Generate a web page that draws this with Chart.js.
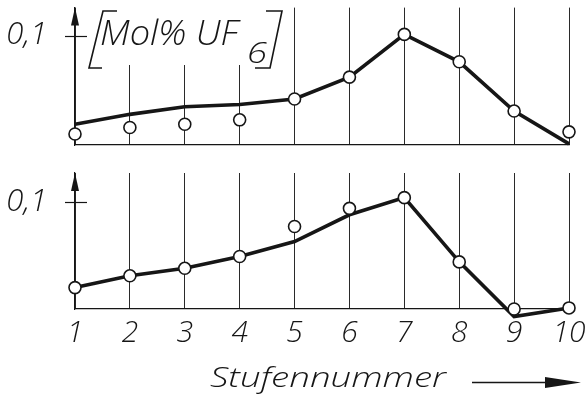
<!DOCTYPE html>
<html>
<head>
<meta charset="utf-8">
<script src="https://cdn.jsdelivr.net/npm/chart.js@4.4.1/dist/chart.umd.min.js"></script>
<style>
  html, body { margin: 0; padding: 0; background: #fff; }
  #wrap { position: relative; width: 586px; height: 397px; overflow: hidden; }
  canvas { position: absolute; left: 0; }
  #top-canvas { top: 0; }
  #bottom-canvas { top: 160px; }
</style>
</head>
<body>
<div id="wrap">
  <canvas id="top-canvas" width="586" height="160"></canvas>
  <canvas id="bottom-canvas" width="586" height="237"></canvas>
</div>
<script>
// stage numbers along x
const stages = ['1', '2', '3', '4', '5', '6', '7', '8', '9', '10'];

// upper diagram: calculated curve and measured points (Mol% UF6)
const upperCurve = [0.019, 0.028, 0.035, 0.037, 0.042, 0.062, 0.101, 0.076, 0.031, 0.001];
const upperMeasured = [0.010, 0.016, 0.019, 0.023, 0.042, 0.062, 0.101, 0.076, 0.031, 0.012];

// lower diagram
const lowerCurve = [0.020, 0.031, 0.038, 0.049, 0.063, 0.088, 0.104, 0.044, -0.007, 0.001];
const lowerMeasured = [0.020, 0.031, 0.038, 0.049, 0.077, 0.094, 0.104, 0.044, 0.000, 0.001];

// only one labelled tick on each y axis
const yTickValues = [0.1];
const yTickLabels = ['0,1'];

const INK = '#161616';
const FONT = "'Open Sans', 'DejaVu Sans', sans-serif";

function italic(size) {
  return { family: FONT, size: size, style: 'italic', weight: '300' };
}

// draw text stretched horizontally to a given width
function wideText(ctx, text, x, y, width) {
  const w = ctx.measureText(text).width;
  ctx.save();
  ctx.translate(x, y);
  ctx.scale(width / w, 1);
  ctx.fillText(text, 0, 0);
  ctx.restore();
}

// arrow at the top of the y axis and the little cross mark at 0,1
const axisDecor = {
  id: 'axisDecor',
  afterDraw(chart) {
    const ctx = chart.ctx;
    const area = chart.chartArea;
    const y = chart.scales.y;
    const x0 = area.left;
    ctx.save();
    ctx.fillStyle = INK;
    ctx.strokeStyle = INK;
    ctx.beginPath();
    ctx.moveTo(x0, area.top);
    ctx.lineTo(x0 - 4, area.top + 18);
    ctx.lineTo(x0 + 4, area.top + 18);
    ctx.closePath();
    ctx.fill();
    ctx.lineWidth = 1.2;
    yTickValues.forEach(v => {
      const py = Math.round(y.getPixelForValue(v)) + 0.5;
      ctx.beginPath();
      ctx.moveTo(x0 - 10, py);
      ctx.lineTo(x0 + 12, py);
      ctx.stroke();
    });
    ctx.restore();
  }
};

// unit label in brackets on the upper diagram
const unitLabel = {
  id: 'unitLabel',
  afterDraw(chart) {
    const ctx = chart.ctx;
    ctx.save();
    ctx.fillStyle = '#fff';
    ctx.fillRect(84, 0, 200, 65);
    ctx.fillStyle = INK;
    ctx.strokeStyle = INK;
    ctx.lineWidth = 1.6;
    ctx.textBaseline = 'alphabetic';
    ctx.textAlign = 'left';
    ctx.font = 'italic 300 34px ' + FONT;
    wideText(ctx, 'Mol% UF', 100, 45, 138);
    ctx.font = 'italic 300 29px ' + FONT;
    wideText(ctx, '6', 247, 63, 20);
    // left bracket
    ctx.beginPath();
    ctx.moveTo(117, 11);
    ctx.lineTo(103, 11);
    ctx.lineTo(89, 68);
    ctx.lineTo(102, 68);
    ctx.stroke();
    // right bracket
    ctx.beginPath();
    ctx.moveTo(266, 11);
    ctx.lineTo(282, 11);
    ctx.lineTo(270, 68);
    ctx.lineTo(255, 68);
    ctx.stroke();
    ctx.restore();
  }
};

// axis title with arrow under the lower diagram
const axisTitle = {
  id: 'axisTitle',
  afterDraw(chart) {
    const ctx = chart.ctx;
    const top = 160; // canvas offset on the page
    ctx.save();
    ctx.fillStyle = INK;
    ctx.strokeStyle = INK;
    ctx.font = 'italic 300 28px ' + FONT;
    ctx.textAlign = 'left';
    ctx.textBaseline = 'alphabetic';
    wideText(ctx, 'Stufennummer', 210, 387 - top, 236);
    ctx.lineWidth = 1.3;
    ctx.beginPath();
    ctx.moveTo(472, 382.5 - top);
    ctx.lineTo(548, 382.5 - top);
    ctx.stroke();
    ctx.beginPath();
    ctx.moveTo(545, 377 - top);
    ctx.lineTo(581, 382.5 - top);
    ctx.lineTo(545, 388 - top);
    ctx.closePath();
    ctx.fill();
    ctx.restore();
  }
};

function buildChart(canvasId, curve, measured, opts) {
  const ctx = document.getElementById(canvasId).getContext('2d');
  return new Chart(ctx, {
    type: 'line',
    data: {
      labels: stages,
      datasets: [
        {
          data: measured,
          showLine: false,
          pointRadius: 6,
          pointBackgroundColor: '#fff',
          pointBorderColor: INK,
          pointBorderWidth: 1.6,
          clip: false,
        },
        {
          data: curve,
          borderColor: INK,
          borderWidth: 3.6,
          pointRadius: 0,
          tension: 0,
          fill: false,
          clip: false,
        },
      ],
    },
    options: {
      responsive: false,
      animation: false,
      events: [],
      layout: {
        padding: { left: 0, right: 17, top: opts.padTop, bottom: 0 },
      },
      scales: {
        x: {
          offset: false,
          grid: {
            display: true,
            color: '#2a2a2a',
            lineWidth: 1,
            drawTicks: false,
          },
          border: { display: true, color: INK, width: 1.2 },
          ticks: {
            display: opts.showTicks,
            color: INK,
            font: italic(30),
            padding: 6,
            maxRotation: 0,
            autoSkip: false,
          },
          afterFit(scale) {
            scale.height = opts.xHeight;
            scale.paddingLeft = 0;
            scale.paddingRight = 0;
          },
        },
        y: {
          min: 0,
          max: opts.yMax,
          grid: { display: false },
          border: { display: true, color: INK, width: 1.2 },
          afterBuildTicks(scale) {
            scale.ticks = yTickValues.map(v => ({ value: v }));
          },
          ticks: {
            color: INK,
            font: italic(31),
            padding: 20,
            callback: (value, index) => yTickLabels[index],
          },
          afterFit(scale) {
            scale.width = 75;
            scale.paddingTop = 0;
            scale.paddingBottom = 0;
          },
        },
      },
      plugins: {
        legend: { display: false },
        tooltip: { enabled: false },
      },
    },
    plugins: opts.plugins,
  });
}

buildChart('top-canvas', upperCurve, upperMeasured, {
  padTop: 7,
  xHeight: 15,
  yMax: 0.1255,
  showTicks: false,
  plugins: [unitLabel, axisDecor],
});

buildChart('bottom-canvas', lowerCurve, lowerMeasured, {
  padTop: 13,
  xHeight: 88,
  yMax: 0.127,
  showTicks: true,
  plugins: [axisDecor, axisTitle],
});
</script>
</body>
</html>
